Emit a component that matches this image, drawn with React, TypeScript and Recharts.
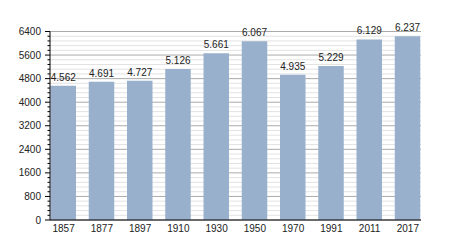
import { BarChart, Bar, XAxis, YAxis, CartesianGrid, LabelList } from 'recharts'

const years = ['1857', '1877', '1897', '1910', '1930', '1950', '1970', '1991', '2011', '2017']
const population = [4562, 4691, 4727, 5126, 5661, 6067, 4935, 5229, 6129, 6237]
const minorTicks = Array.from({ length: 41 }, (_, i) => i * 160)

const data = years.map((year, i) => ({ year, value: population[i] }))

const FONT = '"Liberation Sans", Arial, sans-serif'

function fmt(v: number): string {
  return String(v).replace(/\B(?=(\d{3})+(?!\d))/g, '.')
}

function YTick(props: any) {
  const { x, y, payload } = props
  const major = payload.value % 800 === 0
  return (
    <g>
      <line x1={x - (major ? 5 : 2.5)} x2={x} y1={y} y2={y} stroke="#000" strokeWidth={1} />
      {major && (
        <text x={x - 9} y={y} dy="0.35em" textAnchor="end" fontSize={10} fill="#222" fontFamily={FONT}>
          {payload.value}
        </text>
      )}
    </g>
  )
}

function GridLine(props: any) {
  const { x1, x2, y1, y2, index } = props
  const major = index % 5 === 0
  return (
    <line x1={x1} x2={x2} y1={y1} y2={y2} stroke={major ? '#aaaaaa' : '#e2e2e2'} strokeWidth={1} />
  )
}

export default function App() {
  return (
    <div style={{ position: 'absolute', left: 0, top: 0, background: '#fff' }}>
      <BarChart width={450} height={250} data={data} margin={{ top: 31.5, right: 29, bottom: 0, left: 0 }} barSize={25.5}>
        <CartesianGrid vertical={false} horizontal={GridLine} />
        <XAxis
          dataKey="year"
          height={30}
          padding={{ left: -5.5, right: -6 }}
          tickLine={false}
          tickSize={3}
          axisLine={{ stroke: '#000' }}
          tick={{ fontSize: 10, fill: '#222', fontFamily: FONT }}
          interval={0}
        />
        <YAxis
          width={50}
          domain={[0, 6400]}
          ticks={minorTicks}
          interval={0}
          tickLine={false}
          tickSize={0}
          tickMargin={0}
          axisLine={{ stroke: '#000' }}
          tick={<YTick />}
        />
        <Bar dataKey="value" fill="#98b0cc" isAnimationActive={false}>
          <LabelList dataKey="value" position="top" offset={5} formatter={(v: any) => fmt(Number(v))} fontSize={10} fill="#222" fontFamily={FONT} />
        </Bar>
      </BarChart>
    </div>
  )
}
